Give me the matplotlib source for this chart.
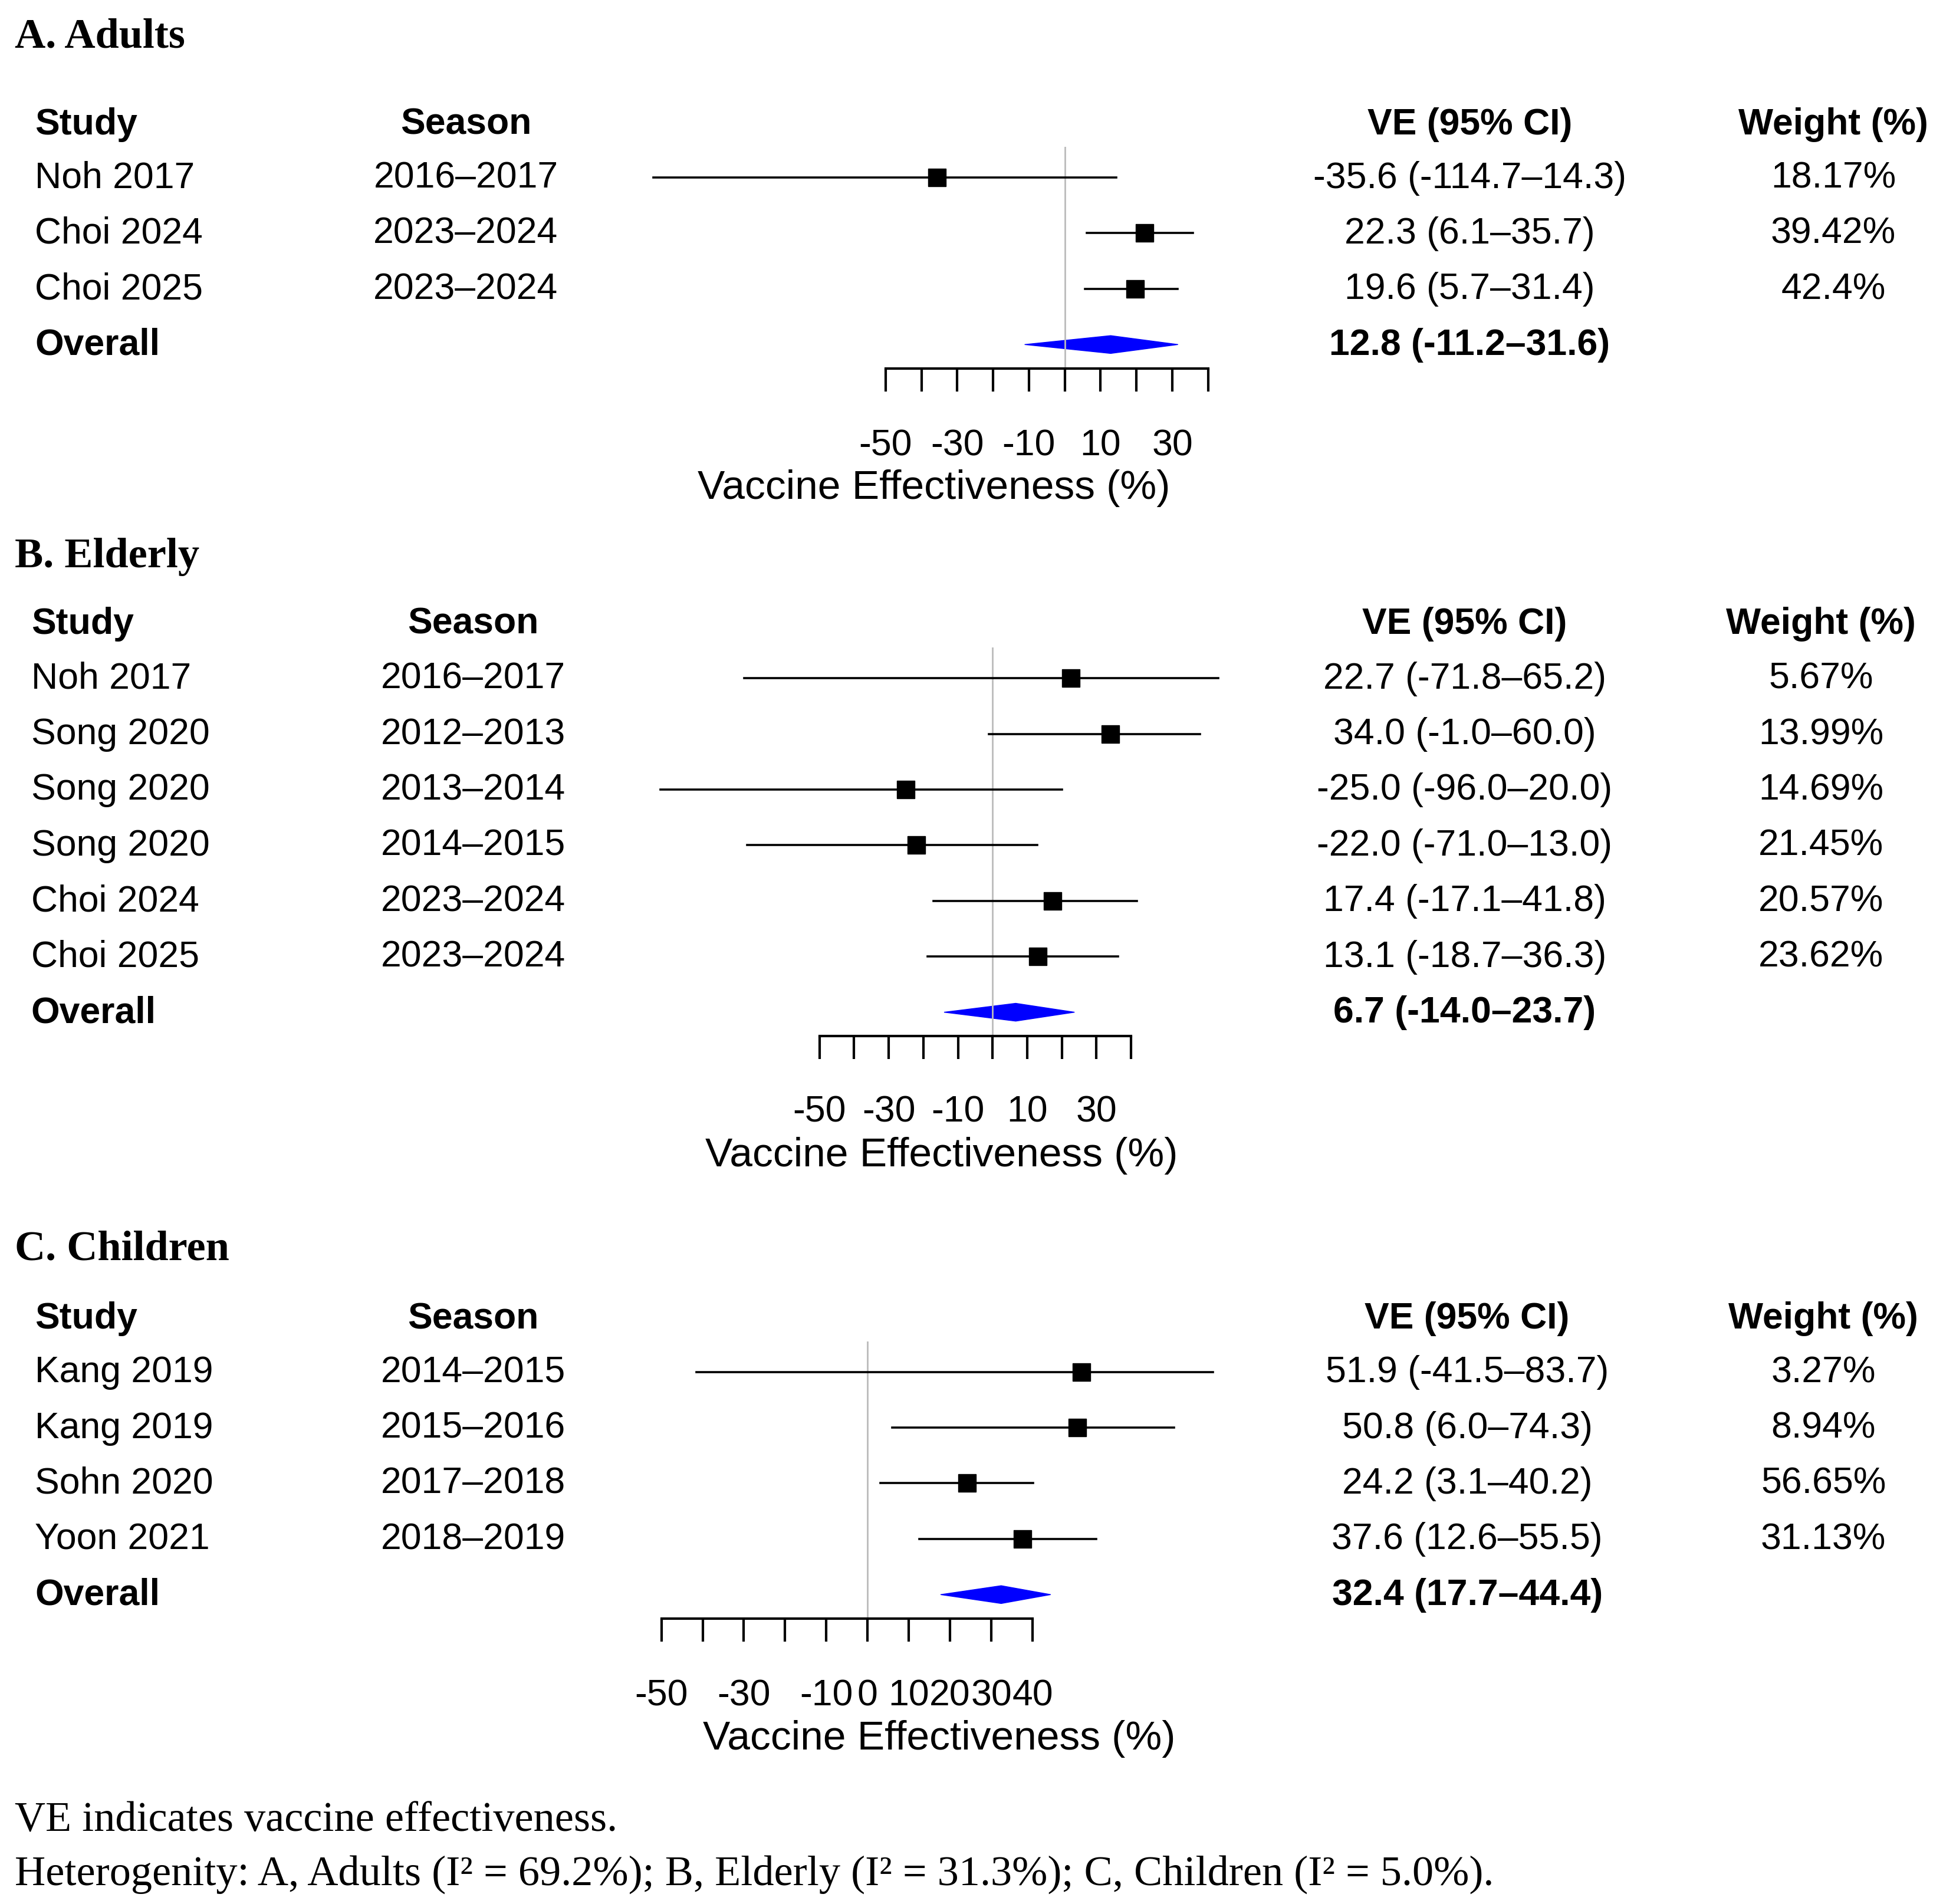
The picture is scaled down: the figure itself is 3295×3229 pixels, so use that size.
import matplotlib
matplotlib.use("Agg")
import matplotlib.pyplot as plt
from matplotlib.patches import Polygon

W, H = 3295, 3230
S = W / 1560.0
fig = plt.figure(figsize=(W/100, H/100), dpi=100)
fx = lambda p: p * S / W
fy = lambda p: 1 - p * S / H
SANS = "Liberation Sans"; SERIF = "Liberation Serif"; FS = 45

# ---- data ----
A_study = ["Noh 2017", "Choi 2024", "Choi 2025"]
A_season = ["2016–2017", "2023–2024", "2023–2024"]
A_est = [-35.6, 22.3, 19.6]; A_lo = [-114.7, 6.1, 5.7]; A_hi = [14.3, 35.7, 31.4]
A_weight = ["18.17%", "39.42%", "42.4%"]
A_overall = [12.8, -11.2, 31.6]

B_study = ["Noh 2017", "Song 2020", "Song 2020", "Song 2020", "Choi 2024", "Choi 2025"]
B_season = ["2016–2017", "2012–2013", "2013–2014", "2014–2015", "2023–2024", "2023–2024"]
B_est = [22.7, 34.0, -25.0, -22.0, 17.4, 13.1]
B_lo = [-71.8, -1.0, -96.0, -71.0, -17.1, -18.7]
B_hi = [65.2, 60.0, 20.0, 13.0, 41.8, 36.3]
B_weight = ["5.67%", "13.99%", "14.69%", "21.45%", "20.57%", "23.62%"]
B_overall = [6.7, -14.0, 23.7]

C_study = ["Kang 2019", "Kang 2019", "Sohn 2020", "Yoon 2021"]
C_season = ["2014–2015", "2015–2016", "2017–2018", "2018–2019"]
C_est = [51.9, 50.8, 24.2, 37.6]; C_lo = [-41.5, 6.0, 3.1, 12.6]; C_hi = [83.7, 74.3, 40.2, 55.5]
C_weight = ["3.27%", "8.94%", "56.65%", "31.13%"]
C_overall = [32.4, 17.7, 44.4]

ticks = [-50, -40, -30, -20, -10, 0, 10, 20, 30, 40]
AB_ticklabels = ["-50", "", "-30", "", "-10", "", "10", "", "30", ""]
C_ticklabels = ["-50", "", "-30", "", "-10", "0", "10", "20", "30", "40"]

panels = [
    dict(title="A. Adults", ty=30, study=A_study, season=A_season, est=A_est, lo=A_lo, hi=A_hi,
         weight=A_weight, overall=A_overall, tl=AB_ticklabels, row0=143, px0=711, ppu=259/90,
         cols=(28, 374, 1180, 1472), hy=100, tly=353, xly=392, xlc=750),
    dict(title="B. Elderly", ty=447, study=B_study, season=B_season, est=B_est, lo=B_lo, hi=B_hi,
         weight=B_weight, overall=B_overall, tl=AB_ticklabels, row0=545, px0=658, ppu=250/90,
         cols=(25, 380, 1176, 1462), hy=501, tly=888, xly=928, xlc=756),
    dict(title="C. Children", ty=1003, study=C_study, season=C_season, est=C_est, lo=C_lo, hi=C_hi,
         weight=C_weight, overall=C_overall, tl=C_ticklabels, row0=1102, px0=531, ppu=298/90,
         cols=(28, 380, 1178, 1464), hy=1059, tly=1357, xly=1396, xlc=754),
]
SP = 44.7

for p in panels:
    n = len(p["est"])
    fig.text(fx(12), fy(p["ty"]), p["title"], family=SERIF, weight="bold", fontsize=52, va="center")
    c = p["cols"]
    fig.text(fx(c[0]), fy(p["hy"]), "Study", family=SANS, weight="bold", fontsize=FS, va="center")
    fig.text(fx(c[1]), fy(p["hy"]), "Season", family=SANS, weight="bold", fontsize=FS, va="center", ha="center")
    fig.text(fx(c[2]), fy(p["hy"]), "VE (95% CI)", family=SANS, weight="bold", fontsize=FS, va="center", ha="center")
    fig.text(fx(c[3]), fy(p["hy"]), "Weight (%)", family=SANS, weight="bold", fontsize=FS, va="center", ha="center")
    for i in range(n):
        y = p["row0"] + i * SP
        fig.text(fx(c[0]), fy(y), p["study"][i], family=SANS, fontsize=FS, va="center")
        fig.text(fx(c[1]), fy(y), p["season"][i], family=SANS, fontsize=FS, va="center", ha="center")
        fig.text(fx(c[2]), fy(y), f"{p['est'][i]:.1f} ({p['lo'][i]:.1f}–{p['hi'][i]:.1f})",
                 family=SANS, fontsize=FS, va="center", ha="center")
        fig.text(fx(c[3]), fy(y), p["weight"][i], family=SANS, fontsize=FS, va="center", ha="center")
    yo = p["row0"] + n * SP
    o = p["overall"]
    fig.text(fx(c[0]), fy(yo), "Overall", family=SANS, weight="bold", fontsize=FS, va="center")
    fig.text(fx(c[2]), fy(yo), f"{o[0]:.1f} ({o[1]:.1f}–{o[2]:.1f})", family=SANS, weight="bold",
             fontsize=FS, va="center", ha="center")

    lo, hi = -130, 90
    top_px = p["row0"] - 0.55 * SP
    bot_px = yo + 0.43 * SP
    lpx = p["px0"] + (lo + 50) * p["ppu"]; rpx = p["px0"] + (hi + 50) * p["ppu"]
    ax = fig.add_axes([fx(lpx), fy(bot_px), fx(rpx) - fx(lpx), fy(top_px) - fy(bot_px)])
    ax.set_xlim(lo, hi); ax.set_ylim(n + 0.43, -0.55)
    ax.patch.set_alpha(0)
    for s in ["top", "left", "right"]:
        ax.spines[s].set_visible(False)
    ax.spines["bottom"].set_bounds(-50, 40); ax.spines["bottom"].set_linewidth(3)
    ax.set_yticks([])
    ax.set_xticks(ticks); ax.set_xticklabels(p["tl"], family=SANS, fontsize=FS)
    ax.tick_params(axis="x", length=28, width=3, pad=(p["tly"] - bot_px) * S * 0.72 - 42)
    ax.axvline(0, color="#bbbbbb", lw=2)
    for i in range(n):
        ax.plot([p["lo"][i], p["hi"][i]], [i, i], color="black", lw=2.6)
        ax.plot(p["est"][i], i, "s", color="black", ms=21)
    ax.add_patch(Polygon([[o[1], n], [o[0], n - 0.16], [o[2], n], [o[0], n + 0.16]],
                         closed=True, color="#0000ff"))
    fig.text(fx(p["xlc"]), fy(p["xly"]), "Vaccine Effectiveness (%)",
             family=SANS, fontsize=50, va="center", ha="center")

fig.text(fx(12), fy(1462), "VE indicates vaccine effectiveness.", family=SERIF, fontsize=52, va="center")
fig.text(fx(12), fy(1505), "Heterogenity: A, Adults (I² = 69.2%); B, Elderly (I² = 31.3%); C, Children (I² = 5.0%).",
         family=SERIF, fontsize=52, va="center")
fig.savefig("out.png", dpi=100, facecolor="white")
